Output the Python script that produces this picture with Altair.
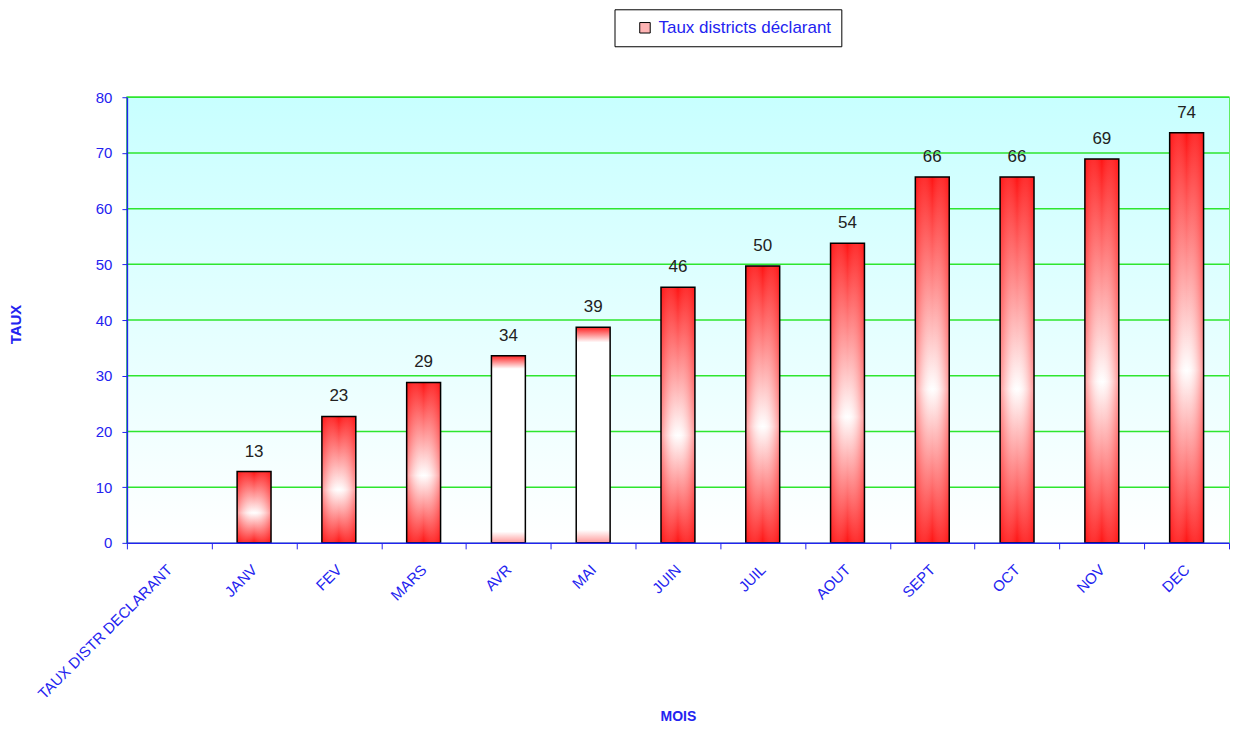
import altair as alt
import pandas as pd

mois = ["TAUX DISTR DECLARANT", "JANV", "FEV", "MARS", "AVR", "MAI", "JUIN",
        "JUIL", "AOUT", "SEPT", "OCT", "NOV", "DEC"]
valeurs = [None, 12.8, 22.7, 28.8, 33.6, 38.7, 45.9, 49.7, 53.8, 65.7, 65.7, 68.9, 73.6]
serie = "Taux districts déclarant"
y_ticks = [0, 10, 20, 30, 40, 50, 60, 70, 80]

df = pd.DataFrame({"mois": mois, "valeur": valeurs, "serie": serie})
df_ticks = pd.DataFrame({"t": y_ticks})

BLUE = "#2323f0"
GREEN = "#2ee62e"
NARROW = "Liberation Sans Narrow, Arial Narrow, Liberation Sans, Arial, sans-serif"
SANS = "Liberation Sans, Arial, sans-serif"

vert_grad = {"gradient": "linear", "x1": 0, "y1": 0, "x2": 0, "y2": 1,
             "stops": [{"offset": 0, "color": "#ff1414"},
                       {"offset": 0.58, "color": "#ffffff"},
                       {"offset": 1, "color": "#ff1414"}]}
horiz_grad = {"gradient": "linear", "x1": 0, "y1": 0, "x2": 1, "y2": 0,
              "stops": [{"offset": 0, "color": "rgba(255,20,20,0.45)"},
                        {"offset": 0.5, "color": "rgba(255,255,255,0)"},
                        {"offset": 1, "color": "rgba(255,20,20,0.45)"}]}
white_grad = {"gradient": "linear", "x1": 0, "y1": 0, "x2": 0, "y2": 1,
              "stops": [{"offset": 0, "color": "#ff2020"},
                        {"offset": 0.07, "color": "#ffffff"},
                        {"offset": 0.94, "color": "#ffffff"},
                        {"offset": 1, "color": "#ff9a9a"}]}
bg_grad = {"gradient": "linear", "x1": 0, "y1": 0, "x2": 0, "y2": 1,
           "stops": [{"offset": 0, "color": "#c8ffff"},
                     {"offset": 1, "color": "#ffffff"}]}

x_enc = alt.X("mois:N", sort=mois,
              scale=alt.Scale(domain=mois, paddingInner=0, paddingOuter=0),
              axis=alt.Axis(title="MOIS", labelAngle=-45, labelAlign="right",
                            labelBaseline="middle", labelPadding=18, labelLimit=0,
                            labelColor=BLUE, labelFont=SANS, labelFontSize=15,
                            tickBand="extent", tickColor=BLUE, tickSize=6,
                            domainColor=BLUE, domainWidth=1.5, zindex=1,
                            titleColor=BLUE, titleFont=SANS, titleFontSize=14,
                            titleFontWeight="bold", titlePadding=8, grid=False))
y_scale = alt.Scale(domain=[0, 80], nice=False)
y_axis = alt.Axis(values=y_ticks, title="TAUX", titleColor=BLUE,
                  titleFont=SANS, titleFontSize=15, titleFontWeight="bold",
                  titlePadding=72, titleY=227, labelColor=BLUE, labelFont=SANS,
                  labelFontSize=15, labelPadding=10, tickColor=BLUE, zindex=1,
                  tickSize=5, domainColor=BLUE, domainWidth=1.5, grid=False)
y_enc = alt.Y("valeur:Q", scale=y_scale, axis=y_axis)

white_set = alt.FieldOneOfPredicate(field="mois", oneOf=["AVR", "MAI"])
bw = alt.RelativeBandSize(0.4)

base = alt.Chart(df)

background = alt.Chart(pd.DataFrame({"a": [0]})).mark_rect(fill=bg_grad).encode(
    x=alt.value(0), x2=alt.value("width"), y=alt.value(0), y2=alt.value("height"))

grid = alt.Chart(df_ticks).transform_filter("datum.t > 0").mark_rule(
    color=GREEN, strokeWidth=1.5).encode(
    y=alt.Y("t:Q", scale=y_scale, axis=y_axis))

bars_main = base.transform_filter(~alt.Predicate(white_set)).mark_bar(
    fill=vert_grad, width=bw).encode(x=x_enc, y=y_enc)
bars_over = base.transform_filter(~alt.Predicate(white_set)).mark_bar(
    fill=horiz_grad, stroke="black", strokeWidth=1.5, width=bw).encode(x=x_enc, y=y_enc)
bars_white = base.transform_filter(white_set).mark_bar(
    fill=white_grad, stroke="black", strokeWidth=1.5, width=bw).encode(x=x_enc, y=y_enc)

labels = base.mark_text(dy=-20, baseline="middle", font=NARROW, fontSize=17,
                        color="#222222").encode(
    x=x_enc, y=y_enc, text=alt.Text("valeur:Q", format=".0f"))

legend_layer = base.mark_square(opacity=0).encode(
    x=x_enc, y=y_enc,
    color=alt.Color("serie:N", scale=alt.Scale(range=["#ffb4b4"]),
                    legend=alt.Legend(title=None, orient="none", legendX=488,
                                      legendY=-88, strokeColor="black",
                                      fillColor="white", padding=10,
                                      symbolType="square", symbolSize=110,
                                      symbolOpacity=1, symbolStrokeColor="black",
                                      symbolStrokeWidth=1, symbolOffset=12,
                                      labelColor=BLUE, labelFont=NARROW,
                                      labelFontSize=17, labelOffset=5,
                                      labelLimit=0)))

chart = alt.layer(background, grid, bars_main, bars_over, bars_white, labels,
                  legend_layer).properties(
    width=1103, height=446,
    padding={"left": 0, "top": 0, "right": 1, "bottom": 0},
).configure_view(stroke=GREEN, strokeWidth=1.5)

chart.save("out.html", embed_options={"renderer": "svg", "actions": False})
